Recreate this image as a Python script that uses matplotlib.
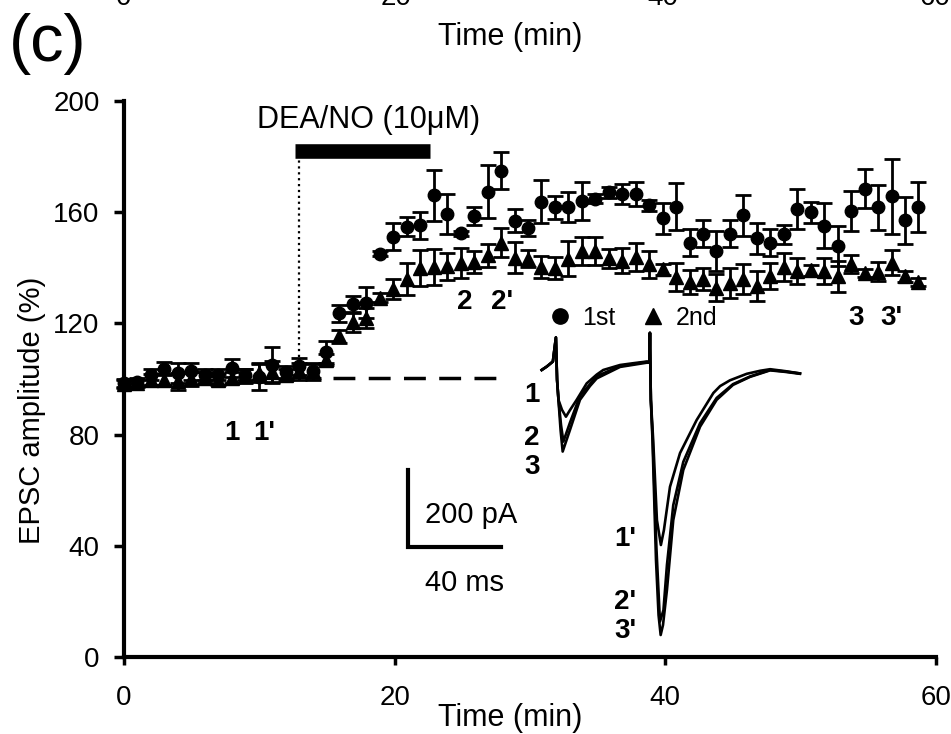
import numpy as np
import matplotlib
matplotlib.use("Agg")
import matplotlib.pyplot as plt
from matplotlib.lines import Line2D

plt.rcParams["font.family"] = ["Liberation Sans", "DejaVu Sans"]
plt.rcParams["font.size"] = 20

# =========================
# Time course (one sweep ~ every minute)
# =========================
sweep_min = 0.995
times = np.arange(60) * sweep_min

# 1st EPSC (circles), % of baseline
first_amp = [98.6, 99.0, 101.6, 103.7, 102.2, 102.8, 101.6, 101.6, 104.0, 101.6,
             100.8, 105.2, 102.5, 104.6, 103.0, 109.6, 123.6, 126.8, 127.5, 145.1,
             151.2, 154.7, 155.3, 166.1, 159.5, 152.4, 158.7, 167.4, 174.9, 156.9,
             154.3, 163.8, 161.7, 162.0, 164.1, 164.9, 167.1, 166.5, 166.5, 162.5,
             157.8, 162.0, 149.1, 152.3, 146.1, 152.3, 158.9, 150.6, 149.1, 152.1,
             161.1, 159.9, 155.1, 147.9, 160.3, 168.5, 161.7, 165.7, 157.1, 161.9]
first_sem = [1.5, 1.5, 2.0, 2.4, 3.6, 3.0, 2.0, 2.0, 3.3, 2.0,
             4.6, 6.4, 2.0, 3.0, 2.5, 3.9, 3.0, 3.0, 5.7, 1.0,
             4.8, 3.4, 4.8, 9.1, 7.2, 1.0, 3.2, 9.6, 6.6, 4.2,
             3.0, 7.7, 4.0, 5.4, 6.8, 1.5, 2.0, 3.6, 4.2, 2.0,
             5.6, 8.4, 5.0, 4.9, 7.2, 4.9, 7.3, 5.6, 4.8, 3.4,
             7.2, 3.9, 8.1, 7.2, 7.2, 7.0, 8.0, 13.4, 8.5, 9.1]

# 2nd EPSC (triangles), % of baseline
second_amp = [98.2, 98.5, 99.8, 99.8, 99.2, 100.1, 100.4, 99.8, 100.4, 101.0,
              102.2, 102.5, 101.6, 102.8, 102.8, 107.0, 115.3, 120.5, 122.0, 129.3,
              132.2, 136.1, 140.0, 140.4, 140.6, 141.9, 142.1, 144.5, 149.1, 143.7,
              143.3, 140.4, 140.0, 143.3, 146.1, 146.1, 143.4, 142.5, 143.9, 141.3,
              139.5, 136.8, 134.9, 136.1, 132.9, 134.7, 136.1, 133.5, 137.0, 140.3,
              138.8, 139.1, 138.8, 137.0, 141.3, 138.2, 138.6, 141.9, 137.0, 134.9]
second_sem = [1.5, 1.5, 2.0, 2.0, 3.0, 2.5, 2.0, 2.0, 2.0, 2.5,
              3.4, 3.9, 2.0, 3.0, 3.0, 2.0, 2.5, 3.5, 3.5, 1.5,
              3.6, 5.8, 6.5, 6.5, 4.9, 5.4, 4.0, 4.2, 5.1, 5.5,
              3.0, 4.0, 4.0, 6.3, 5.1, 5.0, 3.5, 4.5, 5.2, 4.8,
              2.0, 5.0, 4.3, 4.0, 4.8, 5.4, 5.4, 5.4, 4.6, 5.2,
              4.6, 2.0, 4.6, 5.6, 3.2, 1.5, 3.5, 4.4, 2.0, 1.5]

drug_on, drug_off = 12.6, 22.6
baseline_start, baseline_end = 15.45, 27.6

# =========================
# Example traces (ms, pA)
# =========================
tr1_ms = [0.3, 2.5, 5.1, 6.4, 6.9, 7.5, 9.0, 10.7, 12.4, 15.3, 19.6, 23.9, 26.7, 33.9, 40.0, 45.3,
          46.5, 46.7, 47.1, 48.1, 49.7, 51.4, 52.7, 55.3, 59.6, 66.7, 73.9, 76.8, 81.0, 88.2,
          94.0, 98.2, 104.7, 111.0]
tr1_pA = [-13, -4, 9, 72, -39, -91, -117, -135, -118, -91, -48, -25, -13, 0, 5, 9,
          9, 84, -91, -196, -405, -470, -431, -318, -230, -144, -73, -55, -40, -23,
          -15, -11, -16, -22]

tr2_ms = [0.3, 2.5, 5.1, 6.4, 6.9, 7.5, 8.6, 9.6, 12.4, 16.7, 23.9, 33.9, 45.3,
          46.5, 46.7, 47.1, 47.9, 49.5, 51.0, 52.5, 54.0, 56.7, 61.0, 68.2, 75.3, 82.3, 89.6,
          98.2, 104.7, 111.0]
tr2_pA = [-13, -4, 9, 72, -39, -91, -157, -200, -151, -81, -29, -3, 8,
          8, 84, -91, -196, -480, -670, -640, -522, -366, -253, -152, -86, -50, -30,
          -13, -17, -22]

tr3_ms = [0.3, 2.5, 5.1, 6.4, 6.9, 7.5, 8.4, 9.3, 12.4, 16.7, 21.0, 23.9, 33.9, 45.3,
          46.5, 46.7, 47.1, 47.8, 49.3, 50.4, 51.3, 52.3, 54.0, 56.7, 61.0, 68.2, 75.3, 82.3,
          89.6, 98.2, 104.7, 111.0]
tr3_pA = [-13, -4, 9, 72, -39, -91, -170, -226, -170, -91, -55, -35, -5, 6,
          6, 84, -91, -196, -509, -653, -705, -679, -587, -405, -274, -161, -91, -52,
          -31, -14, -18, -23]

# =========================
# Figure
# =========================
W, H = 951, 734
fig = plt.figure(figsize=(W / 100, H / 100), dpi=100)

# remnants of the panel above (cropped by the figure edge, as in the original)
for lab, px in [("0", 123.5), ("20", 396), ("40", 663), ("60", 935)]:
    fig.text(px / W, 1 + 2 / H, lab, ha="center", va="center", fontsize=20)
fig.text(510 / W, 1 - 37 / H, "Time (min)", ha="center", va="center", fontsize=22)
fig.text(9 / W, 1 - 44 / H, "(c)", ha="left", va="center", fontsize=48)

ax = fig.add_axes([124 / W, (H - 657) / H, 812 / W, 556 / H])

ax.errorbar(times, second_amp, yerr=second_sem, fmt="^", ms=9.5, color="k",
            ecolor="k", elinewidth=2, capsize=6, capthick=2, clip_on=False, zorder=3)
ax.errorbar(times, first_amp, yerr=first_sem, fmt="o", ms=9, color="k",
            ecolor="k", elinewidth=2, capsize=6, capthick=2, clip_on=False, zorder=4)

# drug application bar + onset marker
ax.plot([drug_on, drug_off], [182.1, 182.1], color="k", lw=10.5, solid_capstyle="butt")
ax.plot([drug_on + 0.3, drug_on + 0.3], [108, 179], color="k", ls=":", lw=1.6)
ax.text((drug_on + drug_off) / 2 + 0.5, 193, "DEA/NO (10μM)", ha="center", va="center",
        fontsize=22)

# 100 % reference
ax.plot([baseline_start, baseline_end], [100.5, 100.5], color="k", lw=2.5,
        ls=(0, (6.3, 3.85)))

# sample-point labels
bold = dict(fontsize=20, fontweight="bold", ha="center", va="center")
ax.text(7.98, 80.6, "1", **bold)
ax.text(10.4, 80.6, "1'", **bold)
ax.text(25.2, 127.8, "2", **bold)
ax.text(27.97, 127.8, "2'", **bold)
ax.text(54.1, 121.9, "3", **bold)
ax.text(56.7, 121.9, "3'", **bold)

handles = [Line2D([], [], marker="o", ms=11, color="k", ls="none"),
           Line2D([], [], marker="^", ms=11, color="k", ls="none")]
ax.legend(handles, ["1st", "2nd"], ncol=2, frameon=False, fontsize=18,
          loc="center left", bbox_to_anchor=(31.3, 121.9), bbox_transform=ax.transData,
          handlelength=1.0, handletextpad=0.4, columnspacing=1.0, borderpad=0,
          borderaxespad=0)

ax.set_xlim(0, 60)
ax.set_ylim(0, 200)
ax.set_xticks([0, 20, 40, 60])
ax.set_yticks([0, 40, 80, 120, 160, 200])
for s in ["top", "right"]:
    ax.spines[s].set_visible(False)
for s in ["left", "bottom"]:
    ax.spines[s].set_linewidth(3)
ax.tick_params(axis="y", direction="out", length=7.5, width=2.5, pad=10, labelsize=20)
ax.tick_params(axis="x", direction="out", length=6, width=2.5, pad=14, labelsize=20)

ax.set_xlabel("Time (min)", fontsize=22)
ax.xaxis.set_label_coords(0.4754, -0.083)
ax.set_ylabel("EPSC amplitude (%)", fontsize=21)
ax.yaxis.set_label_coords(-0.096, 0.444)

# =========================
# Inset traces
# =========================
axi = fig.add_axes([380 / W, (H - 680) / H, 440 / W, 360 / H])
axi.set_xlim(-69.0, 119.6)
axi.set_ylim(-822.5, 117.5)
axi.axis("off")

for ms_, pa_ in [(tr1_ms, tr1_pA), (tr2_ms, tr2_pA), (tr3_ms, tr3_pA)]:
    axi.plot(ms_, pa_, color="k", lw=1.9, solid_joinstyle="round")

# scale bar
axi.plot([-57.0, -57.0, -17.0], [-275, -475, -475], color="k", lw=3,
         solid_joinstyle="miter")
axi.text(-49.7, -391.6, "200 pA", ha="left", va="center", fontsize=21)
axi.text(-49.7, -569, "40 ms", ha="left", va="center", fontsize=21)

for lab, xm, yp in [("1", -4.0, -78), ("2", -4.0, -191), ("3", -4.0, -265.5),
                    ("1'", 36.0, -454), ("2'", 36.0, -620), ("3'", 36.0, -694.5)]:
    axi.text(xm, yp, lab, **bold)

fig.savefig("out.png", dpi=100)
